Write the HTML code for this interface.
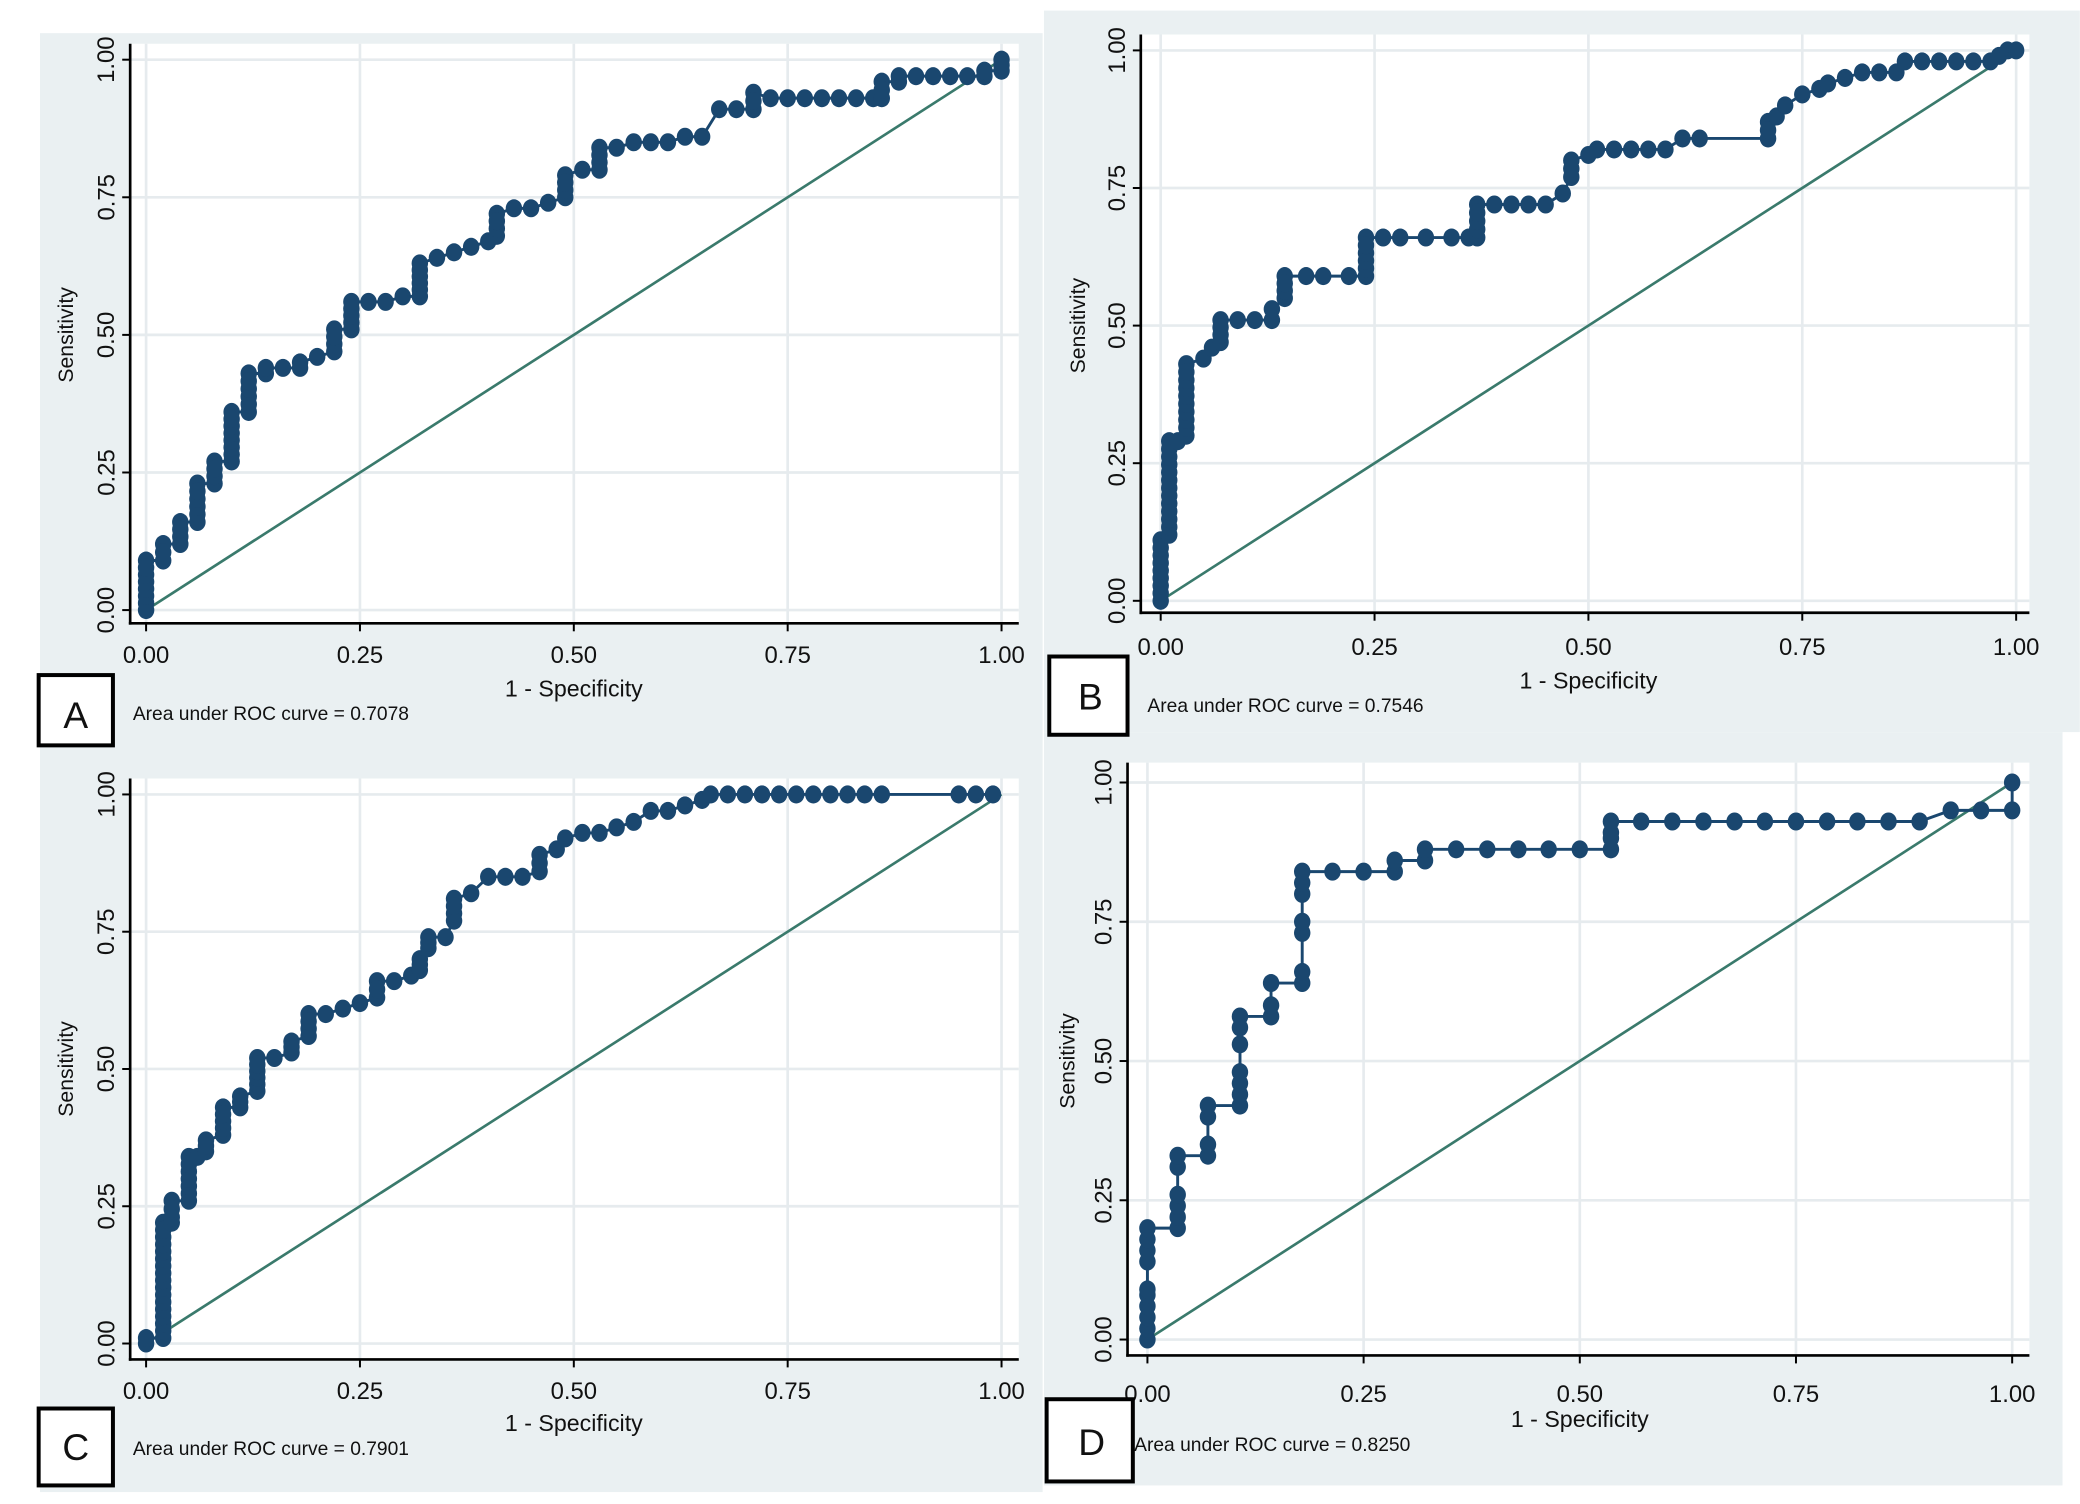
<!DOCTYPE html>
<html><head><meta charset="utf-8"><style>
html,body{margin:0;padding:0;background:#fff;}
svg{display:block;}
text{font-family:"Liberation Sans",sans-serif;fill:#111;}
</style></head><body>
<svg id="s" width="2080" height="1504" viewBox="0 0 1568 1134" xmlns="http://www.w3.org/2000/svg">
<rect x="0" y="0" width="1568" height="1134" fill="#fff"/>
<rect x="30" y="25" width="756" height="542" fill="#eaf0f2"/>
<rect x="787" y="8" width="781" height="544" fill="#eaf0f2"/>
<rect x="30" y="567" width="756" height="558" fill="#eaf0f2"/>
<rect x="787" y="552" width="768" height="568" fill="#eaf0f2"/>
<g id="g"></g>
<g font-size="14.5">
<text x="100" y="543">Area under ROC curve = 0.7078</text>
<text x="865" y="537">Area under ROC curve = 0.7546</text>
<text x="100" y="1097">Area under ROC curve = 0.7901</text>
<text x="855" y="1094">Area under ROC curve = 0.8250</text>
</g>
<g fill="#fff" stroke="#000" stroke-width="3">
<rect x="29" y="509" width="56" height="53"/>
<rect x="791" y="495" width="59" height="59"/>
<rect x="29" y="1062" width="56" height="58"/>
<rect x="789" y="1055" width="65" height="62"/>
</g>
<g font-size="28">
<text x="57" y="549" text-anchor="middle">A</text>
<text x="822" y="535" text-anchor="middle">B</text>
<text x="57" y="1101" text-anchor="middle">C</text>
<text x="823" y="1097" text-anchor="middle">D</text>
</g>
</svg>
<script>
var NS="http://www.w3.org/2000/svg",G=document.getElementById('g');
function el(t,a,txt){var e=document.createElementNS(NS,t);for(var k in a)e.setAttribute(k,a[k]);if(txt!=null)e.textContent=txt;G.appendChild(e);return e;}
var panels=[
{ax:98,ay:470,x0:110,x1:755,y0:460,y1:45,top:33,right:768,xt:494,xtt:520,yl:55,ytl:86,
pts:[[0,0],[0,0.09],[0.02,0.09],[0.02,0.12],[0.04,0.12],[0.04,0.16],[0.06,0.16],[0.06,0.23],[0.08,0.23],[0.08,0.27],[0.1,0.27],[0.1,0.36],[0.12,0.36],[0.12,0.43],[0.14,0.43],[0.14,0.44],[0.16,0.44],[0.18,0.44],[0.18,0.45],[0.2,0.46],[0.22,0.47],[0.22,0.51],[0.24,0.51],[0.24,0.56],[0.26,0.56],[0.28,0.56],[0.3,0.57],[0.32,0.57],[0.32,0.63],[0.34,0.64],[0.36,0.65],[0.38,0.66],[0.4,0.67],[0.41,0.68],[0.41,0.72],[0.43,0.73],[0.45,0.73],[0.47,0.74],[0.49,0.75],[0.49,0.79],[0.51,0.8],[0.53,0.8],[0.53,0.84],[0.55,0.84],[0.57,0.85],[0.59,0.85],[0.61,0.85],[0.63,0.86],[0.65,0.86],[0.67,0.91],[0.69,0.91],[0.71,0.91],[0.71,0.94],[0.73,0.93],[0.75,0.93],[0.77,0.93],[0.79,0.93],[0.81,0.93],[0.83,0.93],[0.85,0.93],[0.86,0.93],[0.86,0.96],[0.88,0.96],[0.88,0.97],[0.9,0.97],[0.92,0.97],[0.94,0.97],[0.96,0.97],[0.98,0.97],[0.98,0.98],[1,0.98],[1,1]],sp:0.013},
{ax:860,ay:462,x0:875,x1:1520,y0:453,y1:38,top:26,right:1530,xt:488,xtt:514,yl:818,ytl:848,
pts:[[0,0],[0,0.11],[0.01,0.12],[0.01,0.29],[0.02,0.29],[0.03,0.3],[0.03,0.43],[0.05,0.44],[0.06,0.46],[0.07,0.47],[0.07,0.51],[0.09,0.51],[0.11,0.51],[0.13,0.51],[0.13,0.53],[0.145,0.55],[0.145,0.59],[0.17,0.59],[0.19,0.59],[0.22,0.59],[0.24,0.59],[0.24,0.66],[0.26,0.66],[0.28,0.66],[0.31,0.66],[0.34,0.66],[0.36,0.66],[0.37,0.66],[0.37,0.72],[0.39,0.72],[0.41,0.72],[0.43,0.72],[0.45,0.72],[0.47,0.74],[0.48,0.77],[0.48,0.8],[0.5,0.81],[0.51,0.82],[0.53,0.82],[0.55,0.82],[0.57,0.82],[0.59,0.82],[0.61,0.84],[0.63,0.84],[0.71,0.84],[0.71,0.87],[0.72,0.88],[0.73,0.9],[0.75,0.92],[0.77,0.93],[0.78,0.94],[0.8,0.95],[0.82,0.96],[0.84,0.96],[0.86,0.96],[0.87,0.98],[0.89,0.98],[0.91,0.98],[0.93,0.98],[0.95,0.98],[0.97,0.98],[0.98,0.99],[0.99,1],[1,1]],sp:0.014},
{ax:98,ay:1025,x0:110,x1:755,y0:1013,y1:599,top:587,right:768,xt:1049,xtt:1074,yl:55,ytl:86,
pts:[[0,0],[0,0.01],[0.02,0.01],[0.02,0.22],[0.03,0.22],[0.03,0.23],[0.03,0.26],[0.05,0.26],[0.05,0.34],[0.06,0.34],[0.07,0.35],[0.07,0.37],[0.09,0.38],[0.09,0.43],[0.11,0.43],[0.11,0.45],[0.13,0.46],[0.13,0.52],[0.15,0.52],[0.17,0.53],[0.17,0.55],[0.19,0.56],[0.19,0.6],[0.21,0.6],[0.23,0.61],[0.25,0.62],[0.27,0.63],[0.27,0.66],[0.29,0.66],[0.31,0.67],[0.32,0.68],[0.32,0.7],[0.33,0.72],[0.33,0.74],[0.35,0.74],[0.36,0.77],[0.36,0.81],[0.38,0.82],[0.4,0.85],[0.42,0.85],[0.44,0.85],[0.46,0.86],[0.46,0.89],[0.48,0.9],[0.49,0.92],[0.51,0.93],[0.53,0.93],[0.55,0.94],[0.57,0.95],[0.59,0.97],[0.61,0.97],[0.63,0.98],[0.65,0.99],[0.66,1],[0.68,1],[0.7,1],[0.72,1],[0.74,1],[0.76,1],[0.78,1],[0.8,1],[0.82,1],[0.84,1],[0.86,1],[0.95,1],[0.97,1],[0.99,1]],sp:0.013},
{ax:850,ay:1022,x0:865,x1:1517,y0:1010,y1:590,top:575,right:1530,xt:1051,xtt:1071,yl:810,ytl:838,
pts:[[0,0],[0,0.02],[0,0.04],[0,0.06],[0,0.08],[0,0.09],[0,0.14],[0,0.16],[0,0.18],[0,0.2],[0.035,0.2],[0.035,0.22],[0.035,0.24],[0.035,0.26],[0.035,0.31],[0.035,0.33],[0.07,0.33],[0.07,0.35],[0.07,0.4],[0.07,0.42],[0.107,0.42],[0.107,0.44],[0.107,0.46],[0.107,0.48],[0.107,0.53],[0.107,0.56],[0.107,0.58],[0.143,0.58],[0.143,0.6],[0.143,0.64],[0.179,0.64],[0.179,0.66],[0.179,0.73],[0.179,0.75],[0.179,0.8],[0.179,0.82],[0.179,0.84],[0.214,0.84],[0.25,0.84],[0.286,0.84],[0.286,0.86],[0.321,0.86],[0.321,0.88],[0.357,0.88],[0.393,0.88],[0.429,0.88],[0.464,0.88],[0.5,0.88],[0.536,0.88],[0.536,0.9],[0.536,0.91],[0.536,0.93],[0.571,0.93],[0.607,0.93],[0.643,0.93],[0.679,0.93],[0.714,0.93],[0.75,0.93],[0.786,0.93],[0.821,0.93],[0.857,0.93],[0.893,0.93],[0.929,0.95],[0.964,0.95],[1,0.95],[1,1]],sp:0.025}
];
panels.forEach(function(p){
 var X=function(v){return p.x0+(p.x1-p.x0)*v},Y=function(v){return p.y0+(p.y1-p.y0)*v};
 el('rect',{x:p.ax,y:p.top,width:p.right-p.ax,height:p.ay-p.top,fill:'#fff'});
 [0,0.25,0.5,0.75,1].forEach(function(t){
  el('line',{x1:X(t),x2:X(t),y1:p.top,y2:p.ay,stroke:'#e6ebee','stroke-width':2});
  el('line',{x1:p.ax,x2:p.right,y1:Y(t),y2:Y(t),stroke:'#e6ebee','stroke-width':2});
  el('line',{x1:X(t),x2:X(t),y1:p.ay,y2:p.ay+6,stroke:'#000','stroke-width':1.5});
  el('line',{x1:p.ax-6,x2:p.ax,y1:Y(t),y2:Y(t),stroke:'#000','stroke-width':1.5});
  el('text',{x:X(t),y:p.xt+6,'font-size':18,'text-anchor':'middle'},t.toFixed(2));
  el('text',{x:p.ytl,y:Y(t),'font-size':18,'text-anchor':'middle',transform:'rotate(-90 '+p.ytl+' '+Y(t)+')'},t.toFixed(2));
 });
 el('line',{x1:p.ax,x2:p.ax,y1:p.top,y2:p.ay+1,stroke:'#000','stroke-width':2});
 el('line',{x1:p.ax-1,x2:p.right,y1:p.ay,y2:p.ay,stroke:'#000','stroke-width':2});
 el('text',{x:(p.x0+p.x1)/2,y:p.xtt+5,'font-size':17.5,'text-anchor':'middle'},'1 - Specificity');
 var cy=(p.y0+p.y1)/2;
 el('text',{x:p.yl,y:cy,'font-size':16,'text-anchor':'middle',transform:'rotate(-90 '+p.yl+' '+cy+')'},'Sensitivity');
 el('line',{x1:X(0),y1:Y(0),x2:X(1),y2:Y(1),stroke:'#3a7a6c','stroke-width':2});
 var d='';p.pts.forEach(function(q,i){d+=(i?'L':'M')+X(q[0]).toFixed(1)+' '+Y(q[1]).toFixed(1)});
 el('path',{d:d,fill:'none',stroke:'#1a476f','stroke-width':2.2});
 var dots=[];
 p.pts.forEach(function(q,i){dots.push(q);
  if(i>0){var r=p.pts[i-1];if(r[0]===q[0]&&q[1]-r[1]>p.sp*1.5&&p.sp<0.02){var n=Math.round((q[1]-r[1])/p.sp);for(var k=1;k<n;k++)dots.push([q[0],r[1]+(q[1]-r[1])*k/n]);}}
 });
 dots.forEach(function(q){el('ellipse',{cx:X(q[0]),cy:Y(q[1]),rx:6.2,ry:6.8,fill:'#1a476f'});});
});
</script>
</body></html>
